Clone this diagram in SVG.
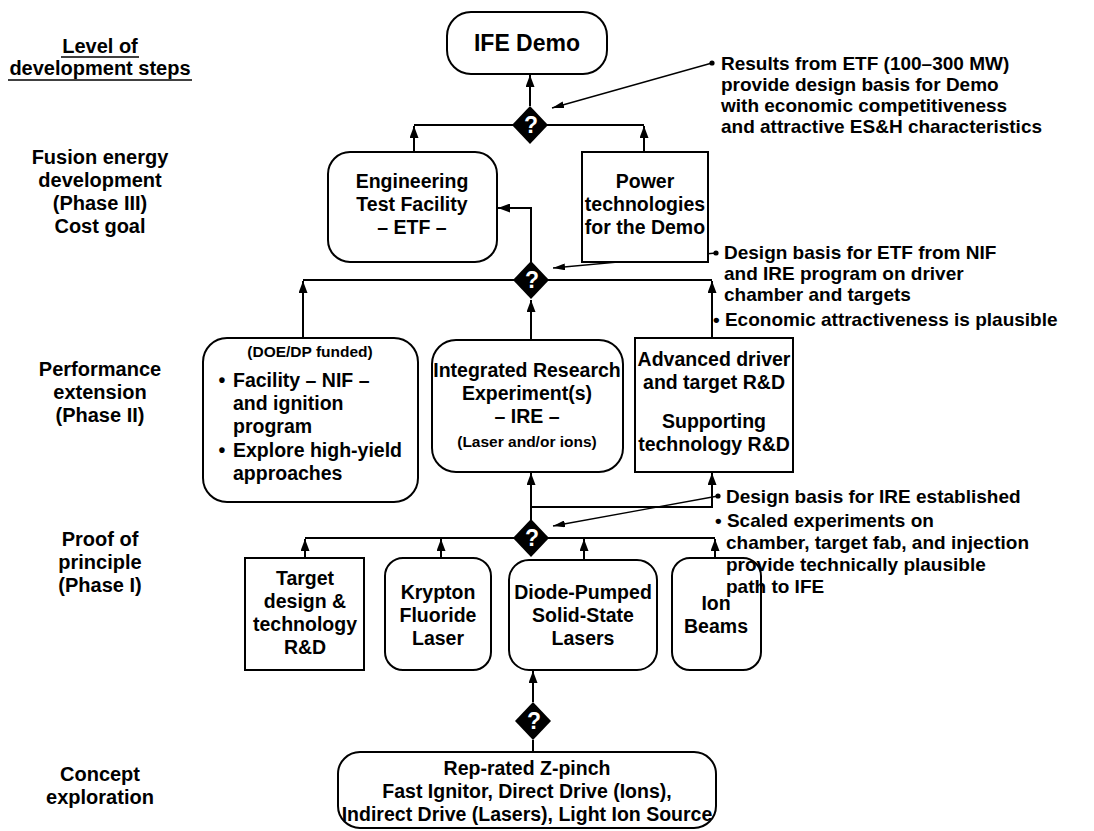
<svg xmlns="http://www.w3.org/2000/svg" width="1094" height="831" viewBox="0 0 1094 831">
<defs>
<style>
text{font-family:"Liberation Sans",Arial,sans-serif;font-weight:bold;fill:#000}
.lbl{font-size:20px;text-anchor:middle}
.bx{font-size:19.5px;text-anchor:middle}
.sm{font-size:15.5px;text-anchor:middle}
.an{font-size:19px}
.node{fill:#fff;stroke:#000;stroke-width:2}
.con{fill:none;stroke:#000;stroke-width:2}
.ann{fill:none;stroke:#000;stroke-width:1.3}
.dia{fill:#000}
.q{font-size:23px;fill:#fff;text-anchor:middle}
</style>
<marker id="ah" markerUnits="userSpaceOnUse" markerWidth="12" markerHeight="9" refX="12" refY="4.5" orient="auto">
<path d="M0,0 L12,4.5 L0,9 z" fill="#000"/>
</marker>
<marker id="ah2" markerUnits="userSpaceOnUse" markerWidth="12" markerHeight="7" refX="12" refY="3.5" orient="auto">
<path d="M0,0 L12,3.5 L0,7 z" fill="#000"/>
</marker>
</defs>

<g id="levels">
<text class="lbl" x="100" y="53">Level of</text>
<text class="lbl" x="100" y="75">development steps</text>
<line x1="61" y1="57" x2="139" y2="57" stroke="#000" stroke-width="1.5"/>
<line x1="8" y1="80" x2="192" y2="80" stroke="#000" stroke-width="1.5"/>
<text class="lbl" x="100" y="164">Fusion energy</text>
<text class="lbl" x="100" y="187">development</text>
<text class="lbl" x="100" y="210">(Phase III)</text>
<text class="lbl" x="100" y="233">Cost goal</text>
<text class="lbl" x="100" y="376">Performance</text>
<text class="lbl" x="100" y="399">extension</text>
<text class="lbl" x="100" y="422">(Phase II)</text>
<text class="lbl" x="100" y="546">Proof of</text>
<text class="lbl" x="100" y="569">principle</text>
<text class="lbl" x="100" y="592">(Phase I)</text>
<text class="lbl" x="100" y="781">Concept</text>
<text class="lbl" x="100" y="804">exploration</text>
</g>

<g id="connectors">
<path class="con" d="M530,106 L530,75" marker-end="url(#ah)"/>
<path class="con" d="M414,125 L644,125"/>
<path class="con" d="M414,153 L414,126" marker-end="url(#ah)"/>
<path class="con" d="M644,152 L644,126" marker-end="url(#ah)"/>
<path class="con" d="M531,262 L531,208 L498,208" marker-end="url(#ah)"/>
<path class="con" d="M303,280 L712,280"/>
<path class="con" d="M303,338 L303,281" marker-end="url(#ah)"/>
<path class="con" d="M531,340 L531,300" marker-end="url(#ah)"/>
<path class="con" d="M712,338 L712,281" marker-end="url(#ah)"/>
<path class="con" d="M531,520 L531,473" marker-end="url(#ah)"/>
<path class="con" d="M531,507 L712,507 L712,473" marker-end="url(#ah)"/>
<path class="con" d="M305,538 L715,538"/>
<path class="con" d="M305,558 L305,539" marker-end="url(#ah)"/>
<path class="con" d="M441,558 L441,539" marker-end="url(#ah)"/>
<path class="con" d="M584,560 L584,539" marker-end="url(#ah)"/>
<path class="con" d="M715,558 L715,539" marker-end="url(#ah)"/>
<path class="con" d="M533,702 L533,671" marker-end="url(#ah)"/>
<path class="con" d="M533,740 L533,752"/>
<path class="ann" d="M712,63 L552,108" marker-end="url(#ah2)"/>
<path class="ann" d="M716,253 L553,268" marker-end="url(#ah2)"/>
<path class="ann" d="M718,496 L553,526" marker-end="url(#ah2)"/>
<circle cx="712" cy="63" r="2.6" fill="#000"/>
<circle cx="716" cy="253" r="2.6" fill="#000"/>
<circle cx="718" cy="496" r="2.6" fill="#000"/>
</g>

<g id="d1"><polygon class="dia" points="530,106 548,125 530,144 512,125"/><text class="q" x="531" y="133">?</text></g>
<g id="d2"><polygon class="dia" points="531,261 549,280 531,299 513,280"/><text class="q" x="532" y="288">?</text></g>
<g id="d3"><polygon class="dia" points="531,519 549,538 531,557 513,538"/><text class="q" x="532" y="546">?</text></g>
<g id="d4"><polygon class="dia" points="533,702 551,721 533,740 515,721"/><text class="q" x="534" y="729">?</text></g>

<g id="ife-demo">
<rect class="node" x="447" y="12" width="160" height="62" rx="24"/>
<text class="bx" x="527" y="51" style="font-size:23px">IFE Demo</text>
</g>

<g id="etf">
<rect class="node" x="328" y="152" width="169" height="110" rx="22"/>
<text class="bx" x="412" y="188">Engineering</text>
<text class="bx" x="412" y="211">Test Facility</text>
<text class="bx" x="412" y="234">– ETF –</text>
</g>

<g id="power">
<rect class="node" x="582" y="152" width="126" height="110"/>
<text class="bx" x="645" y="188">Power</text>
<text class="bx" x="645" y="211">technologies</text>
<text class="bx" x="645" y="234">for the Demo</text>
</g>

<g id="nif">
<rect class="node" x="203" y="338" width="215" height="164" rx="24"/>
<text class="sm" x="310" y="357">(DOE/DP funded)</text>
<text class="bx" x="222" y="387">•</text>
<text class="bx" x="233" y="387" style="text-anchor:start">Facility – NIF –</text>
<text class="bx" x="233" y="410" style="text-anchor:start">and ignition</text>
<text class="bx" x="233" y="433" style="text-anchor:start">program</text>
<text class="bx" x="222" y="457">•</text>
<text class="bx" x="233" y="457" style="text-anchor:start">Explore high-yield</text>
<text class="bx" x="233" y="480" style="text-anchor:start">approaches</text>
</g>

<g id="ire">
<rect class="node" x="432" y="340" width="191" height="132" rx="24"/>
<text class="bx" x="527" y="377">Integrated Research</text>
<text class="bx" x="527" y="400">Experiment(s)</text>
<text class="bx" x="527" y="423">– IRE –</text>
<text class="sm" x="527" y="447">(Laser and/or ions)</text>
</g>

<g id="advanced">
<rect class="node" x="635" y="338" width="158" height="134"/>
<text class="bx" x="714" y="366">Advanced driver</text>
<text class="bx" x="714" y="389">and target R&amp;D</text>
<text class="bx" x="714" y="428">Supporting</text>
<text class="bx" x="714" y="451">technology R&amp;D</text>
</g>

<g id="target">
<rect class="node" x="245" y="558" width="119" height="112"/>
<text class="bx" x="305" y="585">Target</text>
<text class="bx" x="305" y="608">design &amp;</text>
<text class="bx" x="305" y="631">technology</text>
<text class="bx" x="305" y="654">R&amp;D</text>
</g>

<g id="krypton">
<rect class="node" x="385" y="558" width="106" height="112" rx="18"/>
<text class="bx" x="438" y="599">Krypton</text>
<text class="bx" x="438" y="622">Fluoride</text>
<text class="bx" x="438" y="645">Laser</text>
</g>

<g id="diode">
<rect class="node" x="509" y="560" width="148" height="110" rx="20"/>
<text class="bx" x="583" y="599">Diode-Pumped</text>
<text class="bx" x="583" y="622">Solid-State</text>
<text class="bx" x="583" y="645">Lasers</text>
</g>

<g id="ion">
<rect class="node" x="672" y="558" width="89" height="112" rx="18"/>
<text class="bx" x="716" y="610">Ion</text>
<text class="bx" x="716" y="633">Beams</text>
</g>

<g id="concepts">
<rect class="node" x="338" y="752" width="378" height="76" rx="22"/>
<text class="bx" x="527" y="775">Rep-rated Z-pinch</text>
<text class="bx" x="527" y="798">Fast Ignitor, Direct Drive (Ions),</text>
<text class="bx" x="527" y="821">Indirect Drive (Lasers), Light Ion Source</text>
</g>

<g id="notes">
<text class="an" x="721" y="70">Results from ETF (100–300 MW)</text>
<text class="an" x="721" y="91">provide design basis for Demo</text>
<text class="an" x="721" y="112">with economic competitiveness</text>
<text class="an" x="721" y="133">and attractive ES&amp;H characteristics</text>
<text class="an" x="724" y="259">Design basis for ETF from NIF</text>
<text class="an" x="724" y="280">and IRE program on driver</text>
<text class="an" x="724" y="301">chamber and targets</text>
<text class="an" x="713" y="326">• Economic attractiveness is plausible</text>
<text class="an" x="726" y="503">Design basis for IRE established</text>
<text class="an" x="715" y="527">• Scaled experiments on</text>
<text class="an" x="726" y="549">chamber, target fab, and injection</text>
<text class="an" x="726" y="571">provide technically plausible</text>
<text class="an" x="726" y="593">path to IFE</text>
</g>
</svg>
